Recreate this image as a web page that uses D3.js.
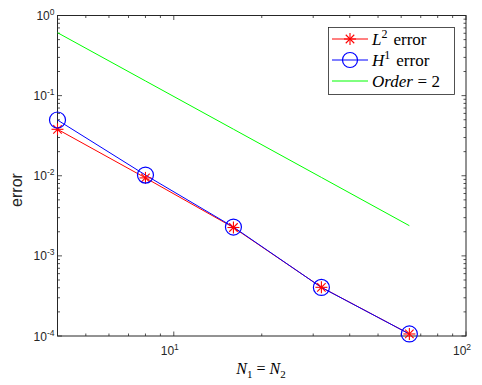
<!DOCTYPE html>
<html><head><meta charset="utf-8">
<script src="https://cdn.jsdelivr.net/npm/d3@7"></script>
<style>body{margin:0;background:#fff}svg{display:block}</style>
</head><body>
<script>
const N = [4, 8, 16, 32, 64];
const L2err = [0.038, 0.0094, 0.00226, 0.000405, 0.000106];
const H1err = [0.0496, 0.0102, 0.00229, 0.000404, 0.000106];
const order2 = [0.61, 0.1525, 0.0381, 0.00953, 0.00238];
const xTicks = [10, 100];
const yTicks = [1, 0.1, 0.01, 0.001, 0.0001];

const W = 482, H = 385;
const m = {l: 57.5, t: 15.5, r: 466, b: 336};
const svg = d3.select("body").append("svg").attr("width", W).attr("height", H)
  .style("font-family", "'Liberation Sans', Arial, sans-serif");

const x = d3.scaleLog().domain([4, 100]).range([m.l, m.r]);
const y = d3.scaleLog().domain([1e-4, 1]).range([m.b, m.t]);

const axisCol = "#262626";
const g = svg.append("g");

const xMinor = [];
[1, 10].forEach(d => { for (let k = 2; k <= 9; k++) { const v = d * k; if (v > 4 && v < 100) xMinor.push(v); } });
const yMinor = [];
[1e-4, 1e-3, 1e-2, 1e-1].forEach(d => { for (let k = 2; k <= 9; k++) yMinor.push(d * k); });

function tick(x1, y1, x2, y2) {
  g.append("line").attr("x1", x1).attr("y1", y1).attr("x2", x2).attr("y2", y2)
    .attr("stroke", axisCol).attr("stroke-width", 0.8);
}
const maj = 4.5, mn = 2.5;
xTicks.forEach(v => { const px = x(v); tick(px, m.b, px, m.b - maj); tick(px, m.t, px, m.t + maj); });
xMinor.forEach(v => { const px = x(v); tick(px, m.b, px, m.b - mn); tick(px, m.t, px, m.t + mn); });
yTicks.forEach(v => { const py = y(v); tick(m.l, py, m.l + maj, py); tick(m.r, py, m.r - maj, py); });
yMinor.forEach(v => { const py = y(v); tick(m.l, py, m.l + mn, py); tick(m.r, py, m.r - mn, py); });

xTicks.forEach(v => {
  const t = svg.append("text").attr("x", x(v) - 4).attr("y", m.b + 19).attr("text-anchor", "middle")
    .attr("fill", axisCol).attr("font-size", 12);
  t.append("tspan").text("10");
  t.append("tspan").attr("dy", -5).attr("font-size", 8.5).text(Math.round(Math.log10(v)));
});
yTicks.forEach(v => {
  const e = Math.round(Math.log10(v));
  const t = svg.append("text").attr("x", m.l - 3).attr("y", y(v) + 4.5).attr("text-anchor", "end")
    .attr("fill", axisCol).attr("font-size", 12);
  t.append("tspan").text("10");
  t.append("tspan").attr("dy", -5).attr("font-size", 8.5).text(e === 0 ? "0" : "-" + Math.abs(e));
});

svg.append("rect").attr("x", m.l).attr("y", m.t).attr("width", m.r - m.l).attr("height", m.b - m.t)
  .attr("fill", "none").attr("stroke", axisCol).attr("stroke-width", 1);

const line = d3.line().x(d => x(d[0])).y(d => y(d[1]));
const plot = svg.append("g");
plot.append("path").datum(N.map((n, i) => [n, order2[i]])).attr("d", line)
  .attr("fill", "none").attr("stroke", "#00ff00").attr("stroke-width", 1);
plot.append("path").datum(N.map((n, i) => [n, L2err[i]])).attr("d", line)
  .attr("fill", "none").attr("stroke", "#ff0000").attr("stroke-width", 1);
plot.append("path").datum(N.map((n, i) => [n, H1err[i]])).attr("d", line)
  .attr("fill", "none").attr("stroke", "#0000ff").attr("stroke-width", 1);

function star(gg, cx, cy, r) {
  [0, 45, 90, 135].forEach(a => {
    const rad = a * Math.PI / 180;
    gg.append("line").attr("x1", cx - r * Math.cos(rad)).attr("y1", cy - r * Math.sin(rad))
      .attr("x2", cx + r * Math.cos(rad)).attr("y2", cy + r * Math.sin(rad))
      .attr("stroke", "#ff0000").attr("stroke-width", 1.1);
  });
}
function circ(gg, cx, cy, r) {
  gg.append("circle").attr("cx", cx).attr("cy", cy).attr("r", r)
    .attr("fill", "none").attr("stroke", "#0000ff").attr("stroke-width", 1.2);
}
N.forEach((n, i) => star(plot, x(n), y(L2err[i]), 6));
N.forEach((n, i) => circ(plot, x(n), y(H1err[i]), 8));

// legend
const lg = svg.append("g");
lg.append("rect").attr("x", 328.5).attr("y", 27.5).attr("width", 126).attr("height", 67)
  .attr("fill", "#fff").attr("stroke", axisCol).attr("stroke-width", 0.8);
const serif = "'Liberation Serif', 'Times New Roman', serif";
const items = [
  {c: "#ff0000", mk: "star", base: "L", sup: "2", rest: ["error"], yy: 39},
  {c: "#0000ff", mk: "circ", base: "H", sup: "1", rest: ["error"], yy: 60},
  {c: "#00ff00", mk: null, base: "Order", sup: null, rest: ["=", "2"], yy: 81}
];
items.forEach(it => {
  lg.append("line").attr("x1", 332).attr("x2", 368).attr("y1", it.yy).attr("y2", it.yy)
    .attr("stroke", it.c).attr("stroke-width", 1);
  if (it.mk === "star") star(lg, 350, it.yy, 6);
  if (it.mk === "circ") circ(lg, 350, it.yy, 7.5);
  const t = lg.append("text").attr("x", 372).attr("y", it.yy + 5.5).attr("font-family", serif)
    .attr("font-size", 17).attr("fill", "#000");
  t.append("tspan").attr("font-style", "italic").text(it.base);
  if (it.sup) t.append("tspan").attr("dy", -6.5).attr("font-size", 12).text(it.sup);
  it.rest.forEach((r, j) => {
    t.append("tspan").attr("dy", (it.sup && j === 0) ? 6.5 : 0).attr("dx", it.sup ? 6 : 4.5).text(r);
  });
});

const xl = svg.append("text").attr("x", 261).attr("y", 374).attr("text-anchor", "middle")
  .attr("font-family", serif).attr("font-size", 16).attr("fill", "#000");
xl.append("tspan").attr("font-style", "italic").text("N");
xl.append("tspan").attr("dy", 4).attr("font-size", 11).text("1");
xl.append("tspan").attr("dy", -4).attr("dx", 4).text("=");
xl.append("tspan").attr("dx", 4).attr("font-style", "italic").text("N");
xl.append("tspan").attr("dy", 4).attr("font-size", 11).text("2");

svg.append("text").attr("transform", "translate(22,190) rotate(-90)").attr("text-anchor", "middle")
  .attr("font-size", 16).attr("fill", axisCol).text("error");
</script>
</body></html>
